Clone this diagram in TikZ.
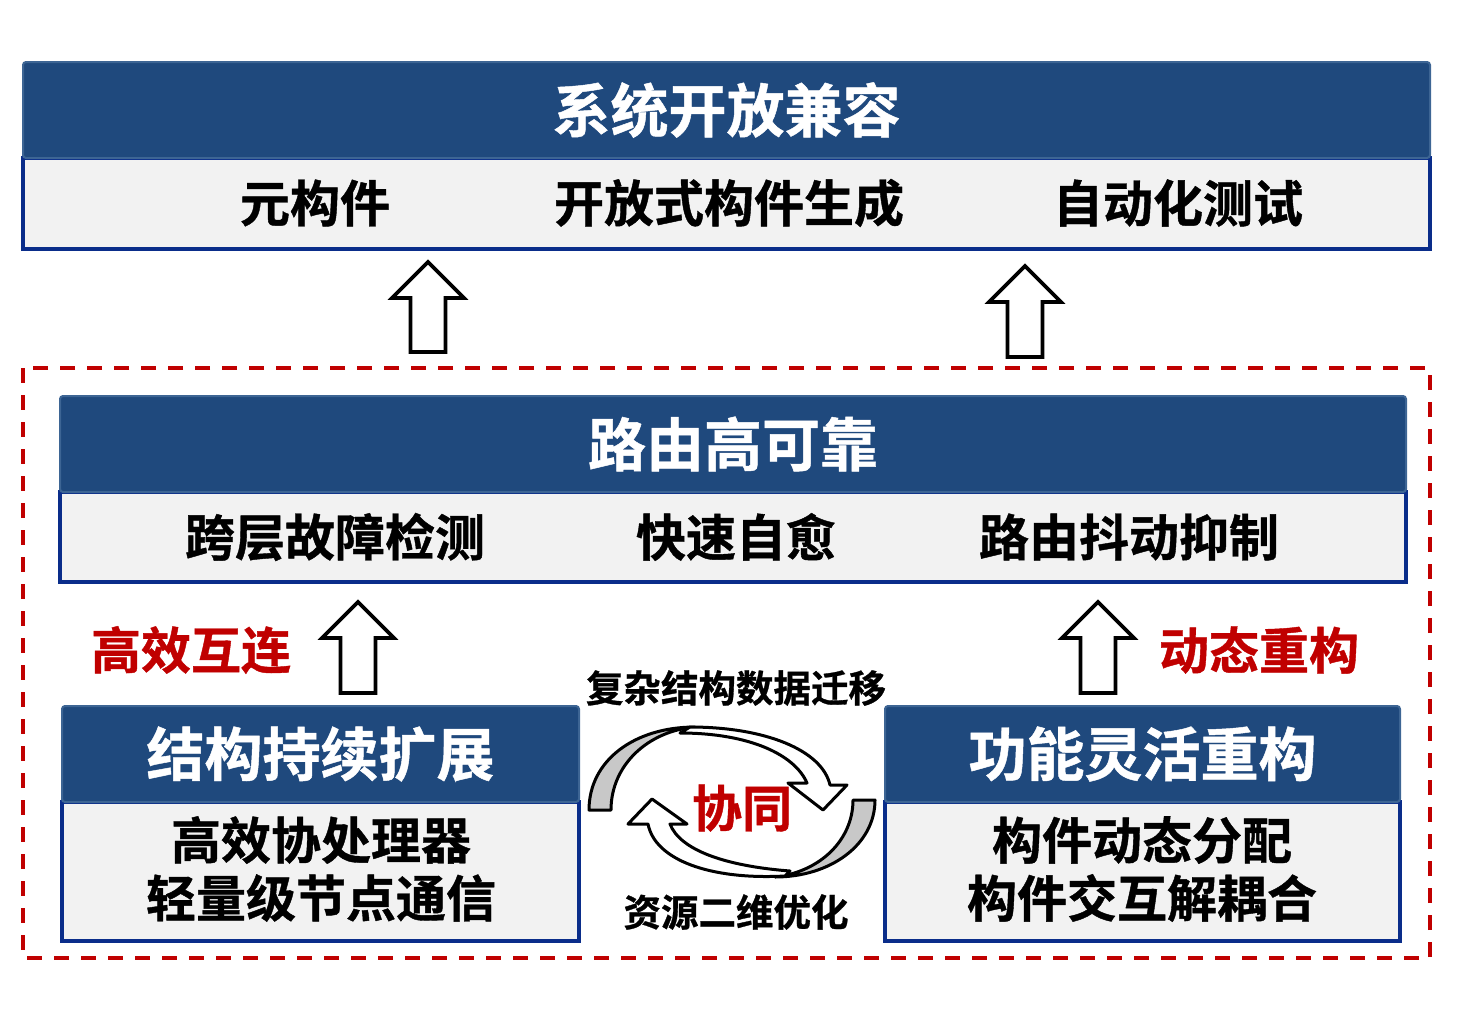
\documentclass[tikz,border=0pt]{standalone}
\usepackage{fontspec}
\newfontfamily\cjk{Noto Sans CJK SC}[BoldFont=* Bold, BoldFeatures={FakeBold=0.8}]
\definecolor{hdrblue}{HTML}{1F497D}
\definecolor{hdredge}{HTML}{3D6594}
\definecolor{bodyedge}{HTML}{0A2D8A}
\definecolor{bodygray}{HTML}{F2F2F2}
\definecolor{darkred}{HTML}{C00000}
\definecolor{ringgray}{HTML}{C8C8C8}

\tikzset{
  hdr/.style={draw=hdredge, fill=hdrblue, line width=1pt, rounded corners=1.5pt,
    text=white, inner sep=0pt, font=\cjk\bfseries\fontsize{29}{34}\selectfont},
  bodybox/.style={draw=bodyedge, fill=bodygray, line width=1.6pt, inner sep=0pt},
  item/.style={font=\cjk\bfseries\fontsize{25}{30}\selectfont, inner sep=0pt},
  note/.style={font=\cjk\bfseries\fontsize{18.75}{22}\selectfont, inner sep=0pt},
  redtext/.style={item, text=darkred},
  blockarr/.style={draw=black, fill=white, line width=1.8pt, line join=miter},
  ring/.style={draw=black, line width=1.5pt, line join=round},
}

% hollow up arrow: x, tip y, foot y
\newcommand\uparrowat[3]{%
  \draw[blockarr] (#1,#2) -- (#1+36,#2+36) -- (#1+17.5,#2+36) -- (#1+17.5,#3)
    -- (#1-17.5,#3) -- (#1-17.5,#2+36) -- (#1-36,#2+36) -- cycle;}

\begin{document}
\begin{tikzpicture}[x=0.5pt, y=-0.5pt]
  \useasboundingbox (0,0) rectangle (1465,1012);

  % top layer
  \node[bodybox, minimum width=703.5pt, minimum height=45.5pt] (compbody) at (726.5,203.5) {};
  \node[hdr, minimum width=703.5pt, minimum height=48pt] (comp) at (726.5,110) {系统开放兼容};
  \node[item] (meta) at (315,203) {元构件};
  \node[item] (gen) at (729,203) {开放式构件生成};
  \node[item] (test) at (1178,203) {自动化测试};

  \uparrowat{428}{262}{352}
  \uparrowat{1025}{266}{357}

  % dashed frame
  \draw[darkred, line width=1.8pt, dash pattern=on 7.5pt off 6pt] (23,368) rectangle (1430,958);

  % routing layer
  \node[bodybox, minimum width=673pt, minimum height=45pt] (routebody) at (733,537) {};
  \node[hdr, minimum width=673pt, minimum height=48pt] (route) at (733,444) {路由高可靠};
  \node[item] (detect) at (335,537) {跨层故障检测};
  \node[item] (heal) at (736,537) {快速自愈};
  \node[item] (jitter) at (1129,537) {路由抖动抑制};

  \uparrowat{358}{602}{693}
  \uparrowat{1098}{602}{693}
  \node[redtext] (link) at (191,650) {高效互连};
  \node[redtext] (reconf) at (1259,650) {动态重构};

  % lower left
  \node[bodybox, minimum width=258.5pt, minimum height=69.5pt] (extbody) at (320.5,871.5) {};
  \node[hdr, minimum width=258.5pt, minimum height=48pt] (ext) at (320.5,754) {结构持续扩展};
  \node[item] (copro) at (321,840) {高效协处理器};
  \node[item] (light) at (321,898) {轻量级节点通信};

  % lower right
  \node[bodybox, minimum width=257.5pt, minimum height=69.5pt] (funbody) at (1142.5,871.5) {};
  \node[hdr, minimum width=257.5pt, minimum height=48pt] (fun) at (1142.5,754) {功能灵活重构};
  \node[item] (alloc) at (1142,840) {构件动态分配};
  \node[item] (decou) at (1142,898) {构件交互解耦合};

  % cycle in the middle
  \draw[ring, fill=ringgray] (589,810) .. controls (589,760) and (635,727) .. (695,727)
    .. controls (648,731) and (611,765) .. (611,810) -- cycle;
  \draw[ring, fill=white] (690,727) .. controls (765,727) and (822,750) .. (830,785)
    -- (847,785) -- (823,810) -- (788,783) -- (807,783)
    .. controls (795,755) and (750,733) .. (680,733) -- cycle;
  \draw[ring, fill=ringgray] (875,800) .. controls (875,845) and (830,877) .. (775,877)
    .. controls (820,872) and (853,840) .. (853,800) -- cycle;
  \draw[ring, fill=white] (785,876) .. controls (710,880) and (655,860) .. (648,824)
    -- (628,824) -- (652,799) -- (687,824) -- (670,824)
    .. controls (680,850) and (725,866) .. (790,871) -- cycle;
  \node[redtext] (sync) at (742,808) {协同};
  \node[note] (migr) at (736,688) {复杂结构数据迁移};
  \node[note] (opt) at (736,912) {资源二维优化};
\end{tikzpicture}
\end{document}
